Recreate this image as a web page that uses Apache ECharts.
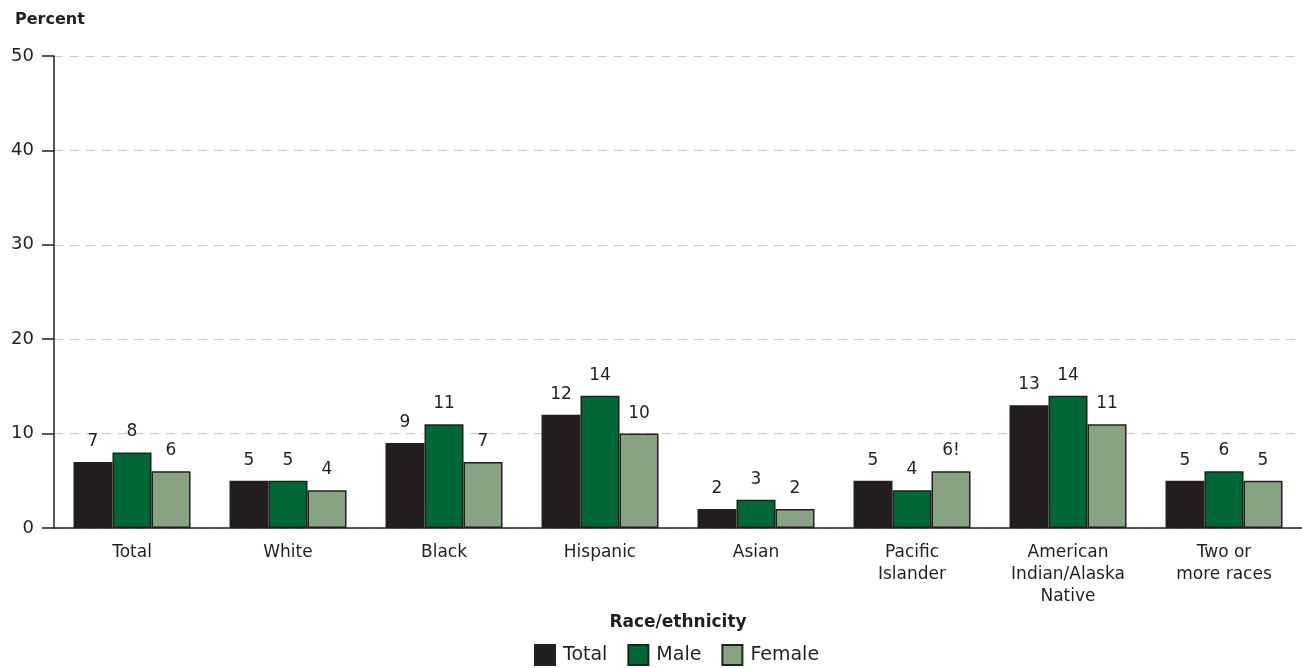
<!DOCTYPE html>
<html><head><meta charset="utf-8">
<script src="https://cdn.jsdelivr.net/npm/echarts@6/dist/echarts.min.js"></script>
<style>html,body{margin:0;padding:0;background:#fff}#c{width:1302px;height:668px}</style>
</head><body><div id="c"></div>
<script>
const categories = ["Total","White","Black","Hispanic","Asian","Pacific\nIslander","American\nIndian/Alaska\nNative","Two or\nmore races"];
const totalVals = [7,5,9,12,2,5,13,5];
const maleVals = [8,5,11,14,3,4,14,6];
const femaleVals = [6,4,7,10,2,6,11,5];
const femaleLabels = ["6","4","7","10","2","6!","11","5"];
const yTicks = [0,10,20,30,40,50];

const FONT = "'DejaVu Sans', sans-serif";
const chart = echarts.init(document.getElementById('c'), null, {renderer:'canvas'});
function series(name, data, color, labels){
  return {
    name, type:'bar', data, barGap:'0%', barCategoryGap:'25%',
    itemStyle:{color, borderColor:'#231f20', borderWidth:1.5},
    label:{show:true, position:'top', distance:12, fontFamily:FONT, fontSize:17, color:'#231f20',
      formatter: labels ? (p => labels[p.dataIndex]) : '{c}'}
  };
}
chart.setOption({
  animation:false,
  textStyle:{fontFamily:FONT},
  grid:{left:54, right:0, top:56, bottom:140, containLabel:false},
  title:{text:'Percent', left:10, top:7, textStyle:{fontFamily:FONT, fontSize:16, fontWeight:'bold', color:'#231f20'}},
  legend:{bottom:2, padding:0, left:534, icon:'rect', itemWidth:20, itemHeight:20, itemGap:20,
    textStyle:{fontFamily:FONT, fontSize:19, color:'#231f20', padding:[0,0,0,3]},
    data:['Total','Male','Female']},
  xAxis:{type:'category', data:categories,
    name:'Race/ethnicity', nameLocation:'middle', nameGap:86,
    nameTextStyle:{fontFamily:FONT, fontSize:17, fontWeight:'bold', color:'#231f20'},
    axisLine:{lineStyle:{color:'#231f20', width:1.5}},
    axisTick:{show:false},
    axisLabel:{fontFamily:FONT, fontSize:17, color:'#231f20', margin:14, lineHeight:22, interval:0}},
  yAxis:{type:'value', min:0, max:50, interval:10,
    axisLine:{show:true, lineStyle:{color:'#231f20', width:1.5}},
    axisTick:{show:true, length:12, lineStyle:{color:'#231f20', width:1.5}},
    axisLabel:{fontFamily:FONT, fontSize:18, color:'#231f20', margin:20,
      formatter: v => yTicks.includes(v) ? String(v) : ''},
    splitLine:{show:true, lineStyle:{color:'#c8c8c8', type:[9,7], width:1}}},
  series:[
    series('Total', totalVals, '#231f20'),
    series('Male', maleVals, '#006837'),
    series('Female', femaleVals, '#87a382', femaleLabels)
  ]
});
</script></body></html>
